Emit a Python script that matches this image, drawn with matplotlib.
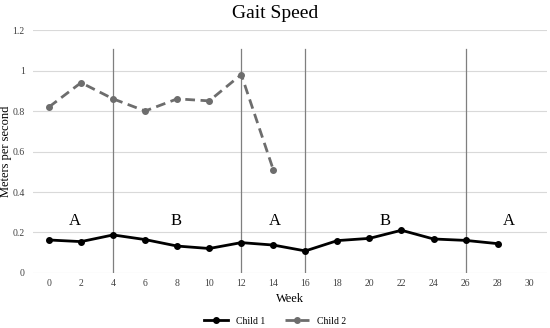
import matplotlib
matplotlib.use("Agg")
import matplotlib.pyplot as plt
from matplotlib.lines import Line2D

weeks1 = [0, 2, 4, 6, 8, 10, 12, 14, 16, 18, 20, 22, 24, 26, 28]
child1 = [0.163, 0.155, 0.188, 0.165, 0.133, 0.121, 0.150, 0.138, 0.109, 0.160, 0.171, 0.211, 0.168, 0.161, 0.145]
weeks2 = [0, 2, 4, 6, 8, 10, 12, 14]
child2 = [0.82, 0.94, 0.86, 0.80, 0.86, 0.85, 0.98, 0.51]
phase_lines = [4, 12, 16, 26]
phase_labels = ["A", "B", "A", "B", "A"]
phase_label_x = [1.6, 7.9, 14.1, 21.0, 28.7]
phase_label_y = [0.215, 0.215, 0.215, 0.215, 0.215]
xticks = list(range(0, 31, 2))
yticks = [0, 0.2, 0.4, 0.6, 0.8, 1.0, 1.2]
ytick_labels = ["0", "0.2", "0.4", "0.6", "0.8", "1", "1.2"]

plt.rcParams['font.family'] = ['Liberation Serif', 'DejaVu Serif']

fig = plt.figure(figsize=(5.5, 3.28), dpi=100)
ax = fig.add_axes([0.06, 0.1677, 0.935, 0.7408])
ax.set_xlim(-1, 31.1)
ax.set_ylim(0, 1.2)

for v in yticks:
    ax.axhline(v, color='#d9d9d9', lw=0.8, zorder=0)
for v in phase_lines:
    ax.plot([v, v], [0, 1.105], color='#7f7f7f', lw=0.9, zorder=1)

ax.plot(weeks1, child1, color='black', lw=2, marker='o', markersize=4, zorder=3)
ax.plot(weeks2, child2, color='#6d6d6d', lw=2, ls=(0, (3.5, 2)), marker='o', markersize=4, zorder=3)

for t, x, y in zip(phase_labels, phase_label_x, phase_label_y):
    ax.text(x, y, t, fontsize=12, ha='center', va='bottom', color='black')

for s in ax.spines.values():
    s.set_visible(False)
ax.set_xticks(xticks)
ax.set_xticklabels([str(t) for t in xticks])
ax.set_yticks(yticks)
ax.set_yticklabels(ytick_labels)
ax.tick_params(length=0, labelsize=7, colors='#404040')
ax.tick_params(axis='x', pad=4)
ax.tick_params(axis='y', pad=6)

fig.text(0.5, 1 - 13 / 328, "Gait Speed", fontsize=14, ha='center', va='center')
ax.set_xlabel("Week", fontsize=9)
ax.xaxis.set_label_coords((290 - 33) / 514, -(299 - 273) / 243, transform=ax.transAxes)
ax.xaxis.label.set_va('center')
ax.set_ylabel("Meters per second", fontsize=9)
ax.yaxis.set_label_coords(-27 / 514, 0.5)
ax.yaxis.label.set_va('center')

handles = [Line2D([], [], color='black', lw=2, marker='o', markersize=4),
           Line2D([], [], color='#6d6d6d', lw=2, ls=(0, (3.5, 2)), marker='o', markersize=4)]
fig.legend(handles, ["Child 1", "Child 2"], loc='center', bbox_to_anchor=(0.5, 1 - 321 / 328),
           ncol=2, frameon=False, fontsize=7, handlelength=2.5, columnspacing=2)

fig.savefig("out.png", dpi=100)
